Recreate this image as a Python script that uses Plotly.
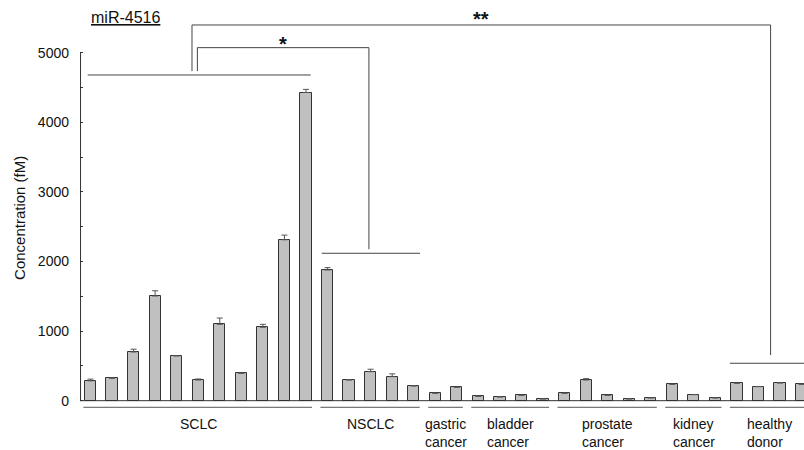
import plotly.graph_objects as go

# ---- data ----
groups = ["SCLC", "NSCLC", "gastric<br>cancer", "bladder<br>cancer",
          "prostate<br>cancer", "kidney<br>cancer", "healthy<br>donor"]
sclc = [285, 322, 700, 1505, 642, 297, 1098, 393, 1055, 2313, 4430]
sclc_err = [25, 6, 40, 75, 6, 15, 90, 4, 43, 67, 45]
nsclc = [1878, 297, 417, 345, 211]
nsclc_err = [35, 4, 35, 40, 4]
gastric = [106, 192]
gastric_err = [4, 4]
bladder = [63, 53, 77, 24]
bladder_err = [3, 3, 3, 3]
prostate = [106, 297, 77, 24, 39]
prostate_err = [4, 20, 3, 3, 3]
kidney = [235, 86, 39]
kidney_err = [4, 3, 3]
healthy = [250, 201, 254, 235]
healthy_err = [4, 3, 4, 4]

group_values = [sclc, nsclc, gastric, bladder, prostate, kidney, healthy]
group_errs = [sclc_err, nsclc_err, gastric_err, bladder_err, prostate_err, kidney_err, healthy_err]

y_ticks = [0, 500, 1000, 1500, 2000, 2500, 3000, 3500, 4000, 4500, 5000]
y_ticktext = [str(v) if v % 1000 == 0 else "" for v in y_ticks]

values, errs, xs, spans = [], [], [], []
i = 0
for vals, es in zip(group_values, group_errs):
    spans.append((i, i + len(vals) - 1))
    for v, e in zip(vals, es):
        xs.append(i)
        values.append(v)
        errs.append(e)
        i += 1

FONT = "Liberation Sans, Arial, sans-serif"
LINE = "#333333"
TXT = "#111111"

fig = go.Figure()
fig.add_trace(go.Bar(
    x=xs, y=values, width=0.52,
    marker=dict(color="#c0c0c0", line=dict(color=LINE, width=1)),
    error_y=dict(type="data", symmetric=False, array=errs,
                 arrayminus=[0] * len(errs), color="#555555",
                 thickness=1, width=3),
    showlegend=False, hoverinfo="skip",
))

X0 = -0.487
X1 = 33.11
shapes = []
# y axis line (0 to 5000) and x axis line at zero
shapes.append(dict(type="line", xref="x", yref="y", x0=X0 + 0.025, x1=X0 + 0.025,
                   y0=0, y1=5000, line=dict(color=LINE, width=1)))
shapes.append(dict(type="line", xref="x", yref="y", x0=X0, x1=X1 + 1,
                   y0=0, y1=0, line=dict(color=LINE, width=1)))
# group underlines
for a, b in spans:
    shapes.append(dict(type="line", xref="x", yref="y", x0=a - 0.33, x1=b + 0.28,
                       y0=-95, y1=-95, line=dict(color="#555555", width=1)))
# comparison lines
def seg(x0, y0, x1, y1):
    shapes.append(dict(type="line", xref="x", yref="y", x0=x0, x1=x1, y0=y0, y1=y1,
                       line=dict(color="#444444", width=1)))

seg(-0.13, 4682, 10.22, 4682)          # SCLC group line
seg(10.73, 2119, 15.29, 2119)          # NSCLC group line
seg(29.67, 538, 34.0, 538)             # healthy group line
# ** bracket
seg(4.71, 4738, 4.71, 5401)
seg(4.71, 5401, 31.56, 5401)
seg(31.56, 5401, 31.56, 657)
# * bracket
seg(4.96, 4738, 4.96, 5075)
seg(4.96, 5075, 12.92, 5075)
seg(12.92, 5075, 12.92, 2177)

annotations = []
for (a, b), name in zip(spans, groups):
    annotations.append(dict(x=(a + b) / 2, y=-191, xref="x", yref="y",
                            text=name, showarrow=False, align="left",
                            xanchor="center", yanchor="top",
                            font=dict(family=FONT, size=14, color=TXT)))
annotations.append(dict(x=(89 - 80) / 724, xref="paper", y=5502, yref="y",
                        text="<u>miR-4516</u>", showarrow=False,
                        xanchor="left", yanchor="middle",
                        font=dict(family=FONT, size=16, color=TXT)))
annotations.append(dict(x=(283 - 90.5) / 21.55, xref="x", y=5130, yref="y",
                        text="<b>*</b>", showarrow=False,
                        xanchor="center", yanchor="middle",
                        font=dict(family=FONT, size=20, color=TXT)))
annotations.append(dict(x=(481 - 90.5) / 21.55, xref="x", y=5480, yref="y",
                        text="<b>**</b>", showarrow=False,
                        xanchor="center", yanchor="middle",
                        font=dict(family=FONT, size=20, color=TXT)))
annotations.append(dict(x=(20 - 80) / 724, xref="paper", y=2627, yref="y",
                        text="Concentration (fM)", showarrow=False, textangle=-90,
                        xanchor="center", yanchor="middle",
                        font=dict(family=FONT, size=15, color=TXT)))

fig.update_layout(
    width=804, height=450,
    margin=dict(l=80, r=0, t=0, b=0),
    plot_bgcolor="white", paper_bgcolor="white",
    shapes=shapes, annotations=annotations,
    bargap=0,
    xaxis=dict(range=[X0, X1], showgrid=False, zeroline=False, showline=False,
               showticklabels=False, ticks=""),
    yaxis=dict(range=[-709, 5760], showgrid=False, zeroline=False, showline=False,
               tickvals=y_ticks, ticktext=y_ticktext, ticks="inside", ticklen=3,
               tickcolor=LINE, ticklabelstandoff=10,
               tickfont=dict(family=FONT, size=14, color=TXT)),
)

fig.write_html(
    "out.html",
    config={"displayModeBar": False},
    post_script="document.body.style.margin='0';document.body.style.overflow='hidden';",
)
